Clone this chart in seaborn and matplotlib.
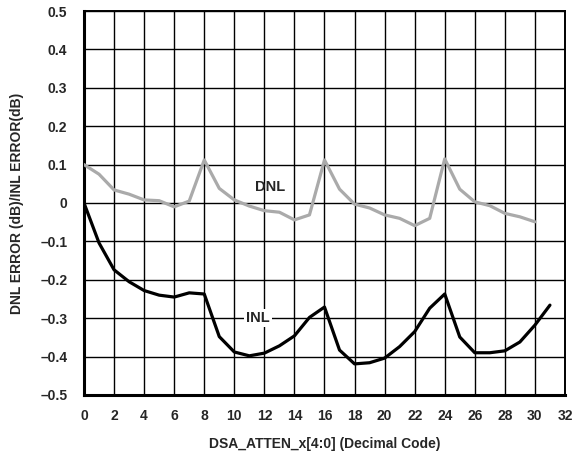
import seaborn as sns
from matplotlib import pyplot as plt
import pandas as pd

# values
dnl_code = list(range(0, 31))
dnl_err = [0.10, 0.075, 0.034, 0.023, 0.008, 0.006, -0.010, 0.005, 0.112, 0.038,
           0.008, -0.008, -0.020, -0.024, -0.044, -0.031, 0.112, 0.036, -0.003, -0.013,
           -0.031, -0.040, -0.059, -0.040, 0.115, 0.036, 0.003, -0.007, -0.027, -0.036,
           -0.049]

inl_code = list(range(0, 32))
inl_err = [0.0, -0.104, -0.174, -0.205, -0.228, -0.240, -0.245, -0.234, -0.237, -0.348,
           -0.388, -0.398, -0.391, -0.372, -0.346, -0.298, -0.271, -0.383, -0.419, -0.416,
           -0.404, -0.374, -0.335, -0.274, -0.237, -0.349, -0.390, -0.390, -0.385, -0.362,
           -0.318, -0.266]

x_ticks = list(range(0, 33, 2))
y_ticks = [-0.5, -0.4, -0.3, -0.2, -0.1, 0, 0.1, 0.2, 0.3, 0.4, 0.5]
y_labels = ['\u20130.5', '\u20130.4', '\u20130.3', '\u20130.2', '\u20130.1', '0',
            '0.1', '0.2', '0.3', '0.4', '0.5']

sns.set_style('white')
plt.rcParams['font.family'] = ['Liberation Sans', 'DejaVu Sans']

dnl = pd.DataFrame({'code': dnl_code, 'err': dnl_err})
inl = pd.DataFrame({'code': inl_code, 'err': inl_err})

fig = plt.figure(figsize=(5.73, 4.55), dpi=100)
ax = fig.add_axes([0.1466, 0.1319, 0.8394, 0.8439])

sns.lineplot(data=dnl, x='code', y='err', color='#aaaaaa', linewidth=2.3, ax=ax, zorder=3)
sns.lineplot(data=inl, x='code', y='err', color='black', linewidth=2.3, ax=ax, zorder=3)

ax.set_xlim(0, 32)
ax.set_ylim(-0.5, 0.5)
ax.set_xticks(x_ticks)
ax.set_yticks(y_ticks)
ax.set_yticklabels(y_labels)
ax.tick_params(axis='x', length=0, labelsize=10, pad=10)
ax.tick_params(axis='y', length=0, labelsize=10, pad=12)
for lab in ax.get_xticklabels() + ax.get_yticklabels():
    lab.set_fontweight('bold')

ax.grid(True, color='black', linewidth=1.0)
ax.set_axisbelow(True)
for side in ['left', 'bottom']:
    ax.spines[side].set_linewidth(2.2)
for side in ['top', 'right']:
    ax.spines[side].set_linewidth(1.4)
for sp in ax.spines.values():
    sp.set_color('black')

ax.text(12.4, 0.042, 'DNL', fontsize=10.5, fontweight='bold', ha='center', va='center', zorder=4)
ax.text(11.6, -0.30, 'INL', fontsize=10.5, fontweight='bold', ha='center', va='center', zorder=4,
        bbox=dict(facecolor='white', edgecolor='none', pad=1.5))

ax.set_xlabel('DSA_ATTEN_x[4:0] (Decimal Code)', fontsize=10, fontweight='bold', labelpad=10)
ax.set_ylabel('DNL ERROR (dB)/INL ERROR(dB)', fontsize=10, fontweight='bold', labelpad=12)

plt.savefig('out.png', dpi=100)
